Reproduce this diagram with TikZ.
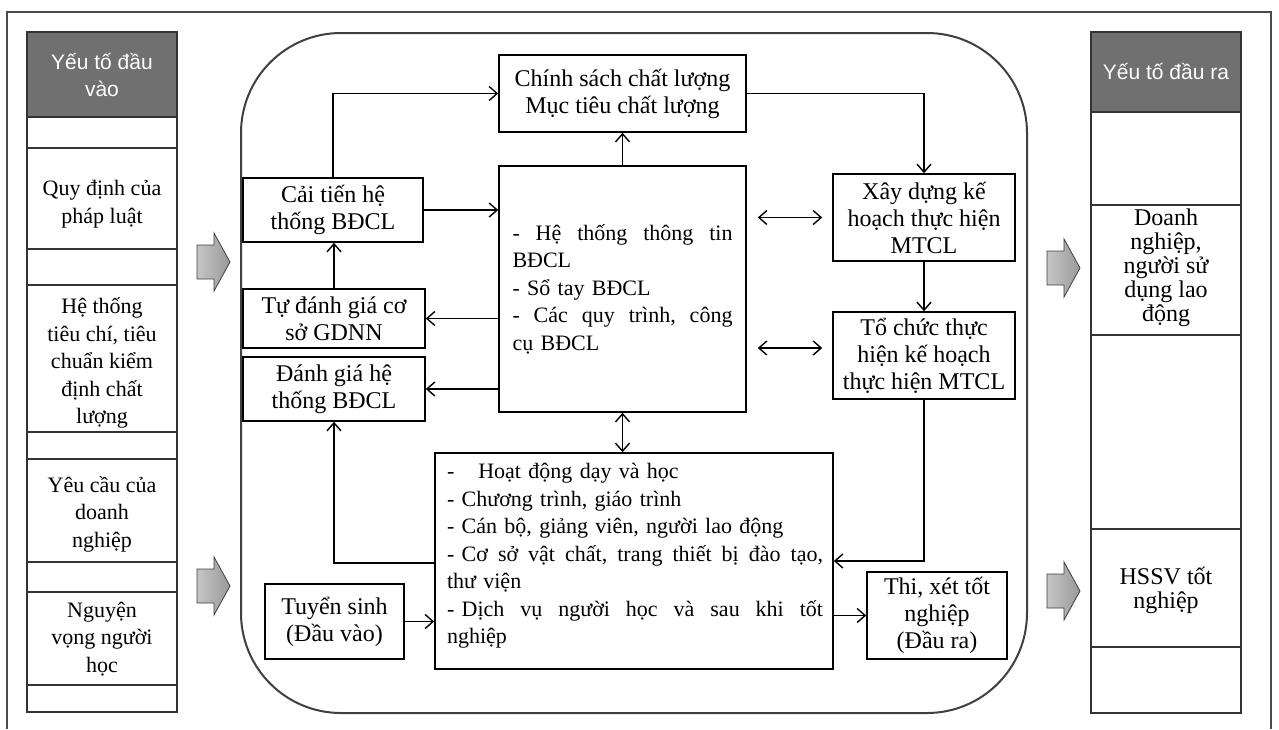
\documentclass[tikz,border=0pt]{standalone}
\usepackage{fontspec}
\setmainfont{Liberation Serif}
\newfontfamily\hdrfont{Liberation Sans}
\usetikzlibrary{arrows.meta}
\definecolor{hdrgray}{RGB}{112,112,112}
\newcommand{\jline}[2]{\leavevmode\hbox to #1{#2}}
\begin{document}
\begin{tikzpicture}[x=0.5pt,y=-0.5pt,
 txt/.style={font=\fontsize{12}{13.5}\selectfont, align=center, inner sep=0pt},
 smalltxt/.style={font=\fontsize{11}{13.75}\selectfont},
 box/.style={txt, draw, line width=0.8pt},
 col/.style={draw=black!80, line width=1pt},
 hdrtxt/.style={inner sep=0pt, align=center, text=white, font=\hdrfont\fontsize{10.5}{13.5}\selectfont},
 arr/.style={line width=0.7pt, -{Straight Barb[length=4pt,width=7pt]}},
 darr/.style={line width=0.7pt, {Straight Barb[length=4pt,width=7pt]}-{Straight Barb[length=4pt,width=7pt]}},
 garrow/.style={left color=gray!45, right color=gray!80, draw=gray!50!black, line width=0.4pt}
]
\useasboundingbox (0,0) rectangle (1279,729);
\fill[white] (0,0) rectangle (1279,729);
% outer frame
\draw[black!70, line width=1.1pt] (7,729) -- (7,12) -- (1271,12) -- (1271,729);

% left column
\fill[hdrgray] (27,32) rectangle (177,117);
\draw[col] (27,32) rectangle (177,712);
\foreach \y in {117,148,249,285,432,459,562,592,685} \draw[col] (27,\y) -- (177,\y);
\node[hdrtxt] (inhdr) at (102,75) {Yếu tố đầu\\vào};
\node[txt, smalltxt] (in1) at (102,204) {Quy định của\\pháp luật};
\node[txt, smalltxt] (in2) at (102,363) {Hệ thống\\tiêu chí, tiêu\\chuẩn kiểm\\định chất\\lượng};
\node[txt, smalltxt] (in3) at (102,514) {Yêu cầu của\\doanh\\nghiệp};
\node[txt, smalltxt] (in4) at (102,639) {Nguyện\\vọng người\\học};

% right column
\fill[hdrgray] (1091,32) rectangle (1241,112);
\draw[col] (1091,32) rectangle (1241,713);
\foreach \y in {112,205,335,529,647} \draw[col] (1091,\y) -- (1241,\y);
\node[hdrtxt] (outhdr) at (1166,72) {Yếu tố đầu ra};
\node[txt, font=\fontsize{12}{12}\selectfont] (out1) at (1166,268) {Doanh\\nghiệp,\\người sử\\dụng lao\\động};
\node[txt, font=\fontsize{12}{12}\selectfont] (out2) at (1166,590) {HSSV tốt\\nghiệp};

% gray block arrows
\foreach \x/\y in {197/262, 197/586, 1047/268, 1047/591}
  \path[garrow] (\x,\y-17) -- (\x+17,\y-17) -- (\x+17,\y-29) -- (\x+33,\y) -- (\x+17,\y+29) -- (\x+17,\y+17) -- (\x,\y+17) -- cycle;

% main rounded frame
\node[draw=black!75, line width=1pt, rounded corners=50pt, minimum width=393pt, minimum height=340pt, inner sep=0pt] (core) at (634,373) {};

% boxes
\node[box, minimum width=123.5pt, minimum height=38.5pt] (pol) at (622.5,93.5) {Chính sách chất lượng\\Mục tiêu chất lượng};
\node[box, smalltxt, minimum width=123.5pt, minimum height=123pt, text width=110pt, align=left] (hub) at (622.5,289) {\jline{110pt}{-\hfill Hệ\hfill thống\hfill thông\hfill tin}\\BĐCL\\- Sổ tay BĐCL\\\jline{110pt}{-\hfill Các\hfill quy\hfill trình,\hfill công}\\cụ BĐCL};
\node[box, minimum width=90pt, minimum height=32pt] (imp) at (333,210) {Cải tiến hệ\\thống BĐCL};
\node[box, minimum width=91pt, minimum height=29.5pt] (self) at (334,318.5) {Tự đánh giá cơ\\sở GDNN};
\node[box, minimum width=91pt, minimum height=32pt] (eval) at (334,389) {Đánh giá hệ\\thống BĐCL};
\node[box, minimum width=91pt, minimum height=43.5pt] (plan) at (924,217.5) {Xây dựng kế\\hoạch thực hiện\\MTCL};
\node[box, minimum width=91pt, minimum height=43.5pt] (org) at (924,355.5) {Tổ chức thực\\hiện kế hoạch\\thực hiện MTCL};
\node[box, minimum width=199pt, minimum height=108pt] (act) at (634,561) {};
\node[txt, smalltxt, text width=188pt, align=left] (actt) at (635,556) {-\hspace{12pt}Hoạt động dạy và học\\- Chương trình, giáo trình\\- Cán bộ, giảng viên, người lao động\\\jline{188pt}{- Cơ\hfill sở\hfill vật\hfill chất,\hfill trang\hfill thiết\hfill bị\hfill đào\hfill tạo,}\\thư viện\\\jline{188pt}{- Dịch\hfill vụ\hfill người\hfill học\hfill và\hfill sau\hfill khi\hfill tốt}\\nghiệp};
\node[box, minimum width=69.5pt, minimum height=37.5pt] (adm) at (334.5,621.5) {Tuyển sinh\\(Đầu vào)};
\node[box, minimum width=70pt, minimum height=43.5pt] (grad) at (937,615.5) {Thi, xét tốt\\nghiệp\\(Đầu ra)};

% connectors
\draw[arr] (imp.north) |- (pol.west);
\draw[arr] (imp.east) -- (imp.east -| hub.west);
\draw[arr] (hub.north) -- (pol.south);
\draw[arr] (pol.east) -| (plan.north);
\draw[darr] ([xshift=5.5pt]hub.east |- plan.west) -- ([xshift=-5pt]plan.west);
\draw[darr] ([xshift=5.5pt,yshift=3.75pt]hub.east |- org.west) -- ([xshift=-5pt,yshift=3.75pt]org.west);
\draw[arr] (plan.south) -- (org.north);
\draw[arr] (hub.west |- self.east) -- (self.east);
\draw[arr] (hub.west |- eval.east) -- (eval.east);
\draw[arr] (self.north) -- (self.north |- imp.south);
\draw[arr] ([yshift=-1pt]act.west) -| (eval.south);
\draw[darr] (hub.south) -- (hub.south |- act.north);
\draw[arr] (org.south) |- (act.east);
\draw[arr] (adm.east) -- (adm.east -| act.west);
\draw[arr] (act.east |- grad.west) -- (grad.west);
\end{tikzpicture}
\end{document}
